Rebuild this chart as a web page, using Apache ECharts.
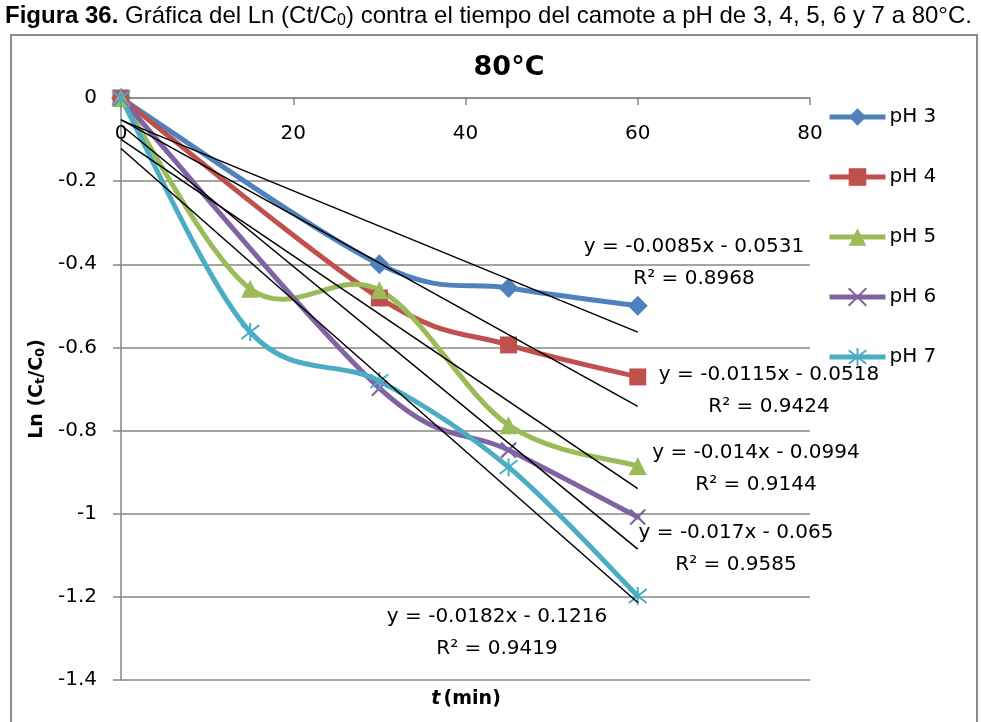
<!DOCTYPE html>
<html>
<head>
<meta charset="utf-8">
<script src="https://cdn.jsdelivr.net/npm/echarts@6/dist/echarts.min.js"></script>
<style>
  html, body { margin: 0; padding: 0; background: #fff; }
  #chart { width: 981px; height: 722px; }
</style>
</head>
<body>
<div id="chart"></div>
<script>
// Sampling times (min)
const timesA = [0, 30, 45, 60];
const timesB = [0, 15, 30, 45, 60];

// Ln(Ct/C0) for each pH
const seriesNames = ['pH 3', 'pH 4', 'pH 5', 'pH 6', 'pH 7'];
const ph3 = [0, -0.400, -0.457, -0.500];
const ph4 = [0, -0.481, -0.594, -0.671];
const ph5 = [0, -0.459, -0.462, -0.787, -0.885];
const ph6 = [0, -0.698, -0.847, -1.008];
const ph7 = [0, -0.563, -0.681, -0.888, -1.198];

// Linear trendlines: y = m·x + b
const slopes = [-0.0085, -0.0115, -0.014, -0.017, -0.0182];
const intercepts = [-0.0531, -0.0518, -0.0994, -0.065, -0.1216];
const r2 = [0.8968, 0.9424, 0.9144, 0.9585, 0.9419];
const trendRange = [0, 60];

// Axis ranges [min, max, step]
const xRange = [0, 80, 20];
const yRange = [-1.4, 0, 0.2];

const colors = ['#4F81BD', '#C0504D', '#9BBB59', '#8064A2', '#4BACC6'];
const chartFont = '"DejaVu Sans", sans-serif';

const pairs = (xs, ys) => xs.map((x, i) => [x, ys[i]]);
const seriesData = [
  pairs(timesA, ph3),
  pairs(timesA, ph4),
  pairs(timesB, ph5),
  pairs(timesA, ph6),
  pairs(timesB, ph7)
];

const symbols = [
  { symbol: 'diamond', size: [20, 20], border: 0 },
  { symbol: 'rect', size: 17, border: 0 },
  { symbol: 'triangle', size: 18, border: 0 },
  { symbol: 'path://M0,0L10,10M10,0L0,10', size: 15, border: 2.2 },
  { symbol: 'path://M0,0L10,10M10,0L0,10M5,-1.5L5,11.5', size: 18, border: 2 }
];

// Smoothed curve through the data points (Catmull-Rom style cubic segments,
// computed in pixel space from the axis scales).
function curveSeries(idx) {
  const pts = seriesData[idx];
  return {
    name: 'curve ' + seriesNames[idx],
    type: 'custom',
    data: pts,
    encode: { x: 0, y: 1 },
    silent: true,
    z: 2,
    renderItem: function (params, api) {
      const i = params.dataIndex;
      if (i === 0) return null;
      const c = k => api.coord(pts[Math.max(0, Math.min(pts.length - 1, k))]);
      const p0 = c(i - 2), p1 = c(i - 1), p2 = c(i), p3 = c(i + 1);
      return {
        type: 'bezierCurve',
        shape: {
          x1: p1[0], y1: p1[1], x2: p2[0], y2: p2[1],
          cpx1: p1[0] + (p2[0] - p0[0]) / 6, cpy1: p1[1] + (p2[1] - p0[1]) / 6,
          cpx2: p2[0] - (p3[0] - p1[0]) / 6, cpy2: p2[1] - (p3[1] - p1[1]) / 6
        },
        style: { stroke: colors[idx], lineWidth: 5, fill: null, lineCap: 'round' }
      };
    }
  };
}

// Markers (and legend entries) for each pH
function markerSeries(idx) {
  return {
    name: seriesNames[idx],
    type: 'line',
    data: seriesData[idx],
    symbol: symbols[idx].symbol,
    symbolSize: symbols[idx].size,
    showSymbol: true,
    lineStyle: { color: colors[idx], width: 5, opacity: 0 },
    itemStyle: { color: colors[idx], borderColor: colors[idx], borderWidth: symbols[idx].border },
    emphasis: { disabled: true },
    silent: true,
    z: 2
  };
}

const dataSeries = [];
seriesNames.forEach((n, i) => { dataSeries.push(curveSeries(i), markerSeries(i)); });

const trendSeries = slopes.map((m, i) => ({
  name: 'trend ' + seriesNames[i],
  type: 'line',
  data: trendRange.map(x => [x, m * x + intercepts[i]]),
  symbol: 'none',
  lineStyle: { color: '#000', width: 1.5 },
  silent: true,
  z: 3
}));

const eqText = i => 'y = ' + slopes[i] + 'x - ' + (-intercepts[i]) + '\nR² = ' + r2[i];
// Label anchor: centre of the first line
const eqPos = [[694, 247], [769, 375], [756, 453], [736, 533], [497, 617]];

const chart = echarts.init(document.getElementById('chart'), null, { renderer: 'canvas' });

chart.setOption({
  animation: false,
  backgroundColor: '#fff',
  grid: { left: 121, right: 171, top: 98, bottom: 42, containLabel: false },
  legend: {
    data: seriesNames,
    orient: 'vertical',
    left: 827,
    top: 107,
    padding: 0,
    itemWidth: 56,
    itemHeight: 22,
    itemGap: 40,
    lineStyle: { width: 5, opacity: 1 },
    textStyle: { fontFamily: chartFont, fontSize: 20, color: '#000', padding: [0, 0, 0, -1] },
    selectedMode: false
  },
  xAxis: {
    type: 'value',
    position: 'top',
    min: xRange[0], max: xRange[1], interval: xRange[2],
    axisLine: { onZero: false, lineStyle: { color: '#868686', width: 1.5 } },
    axisTick: { inside: true, length: 7, lineStyle: { color: '#868686', width: 1.5 } },
    axisLabel: { inside: true, margin: 26, fontFamily: chartFont, fontSize: 20, color: '#000' },
    splitLine: { show: false }
  },
  yAxis: {
    type: 'value',
    min: yRange[0], max: yRange[1], interval: yRange[2],
    name: '{b|Ln (C}{s|t}{b|/C}{s|0}{b|)}',
    nameLocation: 'middle',
    nameRotate: 90,
    nameGap: 70,
    nameTextStyle: {
      rich: {
        b: { fontFamily: chartFont, fontWeight: 'bold', fontSize: 19, color: '#000' },
        s: { fontFamily: chartFont, fontWeight: 'bold', fontSize: 13, color: '#000', padding: [8, 0, 0, 0] }
      }
    },
    axisLine: { show: true, onZero: false, lineStyle: { color: '#868686', width: 1.5 } },
    axisTick: { show: true, length: 8, lineStyle: { color: '#868686', width: 1.5 } },
    axisLabel: { margin: 24, fontFamily: chartFont, fontSize: 20, color: '#000' },
    splitLine: { show: true, lineStyle: { color: '#868686', width: 1.5 } }
  },
  series: dataSeries.concat(trendSeries),
  graphic: [
    {
      type: 'rect', silent: true, z: 0,
      shape: { x: 11, y: 35, width: 966, height: 700 },
      style: { fill: 'none', stroke: '#8c8c8c', lineWidth: 2 }
    },
    {
      type: 'text', x: 5, y: 16, z: 10,
      style: {
        text: '{b|Figura 36.} Gráfica del Ln (Ct/C{s|0}) contra el tiempo del camote a pH de 3, 4, 5, 6 y 7 a 80°C.',
        font: '24px "Liberation Sans", Arial, sans-serif',
        fill: '#000',
        textVerticalAlign: 'middle',
        rich: {
          b: { font: 'bold 24px "Liberation Sans", Arial, sans-serif', fill: '#000' },
          s: { font: '16px "Liberation Sans", Arial, sans-serif', fill: '#000', padding: [10, 0, 0, 0] }
        }
      }
    },
    {
      type: 'text', x: 509, y: 68, z: 10,
      style: {
        text: '80°C', font: 'bold 27px "DejaVu Sans", sans-serif', fill: '#000',
        textAlign: 'center', textVerticalAlign: 'middle'
      }
    },
    {
      type: 'text', x: 466, y: 699, z: 10,
      style: {
        text: '{i|t} {b|(min)}',
        textAlign: 'center', textVerticalAlign: 'middle',
        rich: {
          i: { font: 'italic bold 19px "DejaVu Sans", sans-serif', fill: '#000' },
          b: { font: 'bold 19px "DejaVu Sans", sans-serif', fill: '#000' }
        }
      }
    }
  ].concat(eqPos.map((p, i) => ({
    type: 'text', x: p[0], y: p[1] - 16, z: 10,
    style: {
      text: eqText(i),
      font: '20px "DejaVu Sans", sans-serif',
      fill: '#000',
      textAlign: 'center',
      textVerticalAlign: 'top',
      lineHeight: 32
    }
  })))
});
</script>
</body>
</html>
